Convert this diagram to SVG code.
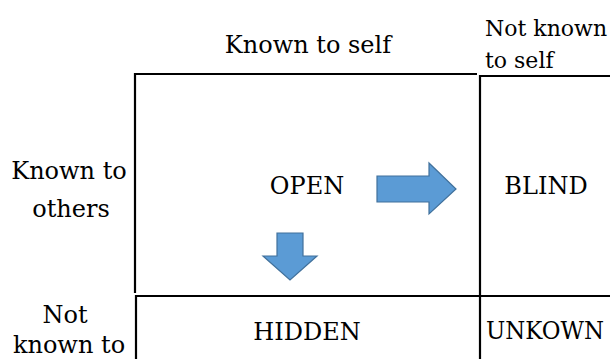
<svg xmlns="http://www.w3.org/2000/svg" width="610" height="359" viewBox="0 0 610 359">
<style>
text{font-family:'DejaVu Serif',serif;font-size:24px;fill:#000}
.c{text-anchor:middle}
.s{font-size:22px}
.ln{stroke:#000;stroke-width:2.2;fill:none}
.arr{fill:#5B9BD5;stroke:#41719C;stroke-width:1.2;stroke-linejoin:miter}
</style>
<rect width="610" height="359" fill="#fff"/>
<g id="grid">
<path class="ln" d="M135,293 V74 H477"/>
<path class="ln" d="M480,359 V76 H610"/>
<path class="ln" d="M136,359 V296 H610"/>
</g>
<g id="header-known-self"><text class="c" x="308" y="53">Known to self</text></g>
<g id="header-not-known-self"><text class="s" x="485" y="36">Not known</text><text class="s" x="485" y="68">to self</text></g>
<g id="label-known-others"><text class="c" x="69" y="179">Known to</text><text class="c" x="71" y="217">others</text></g>
<g id="label-not-known-others"><text class="c" x="65" y="323">Not</text><text class="c" x="69" y="353">known to</text></g>
<g id="open"><text class="c" x="307" y="194">OPEN</text></g>
<g id="blind"><text class="c" x="546" y="194">BLIND</text></g>
<g id="hidden"><text class="c" x="307" y="340">HIDDEN</text></g>
<g id="unknown"><text class="c" x="545" y="339" textLength="118" lengthAdjust="spacingAndGlyphs">UNKOWN</text></g>
<g id="connectors">
<polygon class="arr" points="377,176 429,176 429,163 456,189 429,214 429,202 377,202"/>
<polygon class="arr" points="277,233 303,233 303,256 317,256 290,280 263,256 277,256"/>
</g>
</svg>
